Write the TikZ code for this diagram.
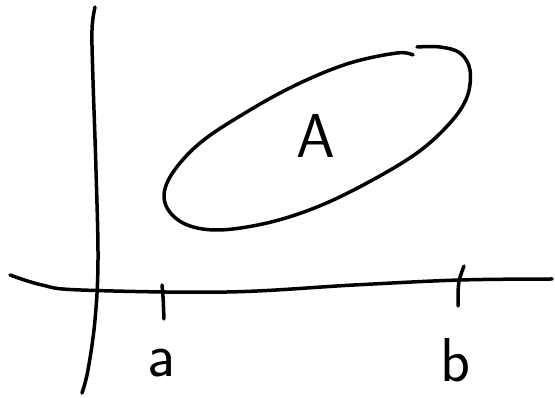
\documentclass[tikz,border=0pt]{standalone}
\usepackage{fontspec}
\setmainfont{DejaVu Sans}
\begin{document}
\begin{tikzpicture}[x=1pt,y=-1pt,
  pen/.style={line width=3.5pt,line cap=round,line join=round},
  lbl/.style={font=\fontsize{62}{62}\selectfont\sffamily,inner sep=0pt}]
\useasboundingbox (0,0) rectangle (555,398);
% vertical axis
\draw[pen] plot[smooth,tension=0.6] coordinates {(95,7) (92,30) (93,80) (96,170) (98,260) (95,320) (88,370) (82,393)};
% horizontal axis
\draw[pen] plot[smooth,tension=0.6] coordinates {(10,275) (42,285) (81,290) (227,292) (354,285) (460,280) (552,279)};
% ticks
\draw[pen] (162,285) .. controls (163,295) .. (164,319);
\draw[pen] (464,266) .. controls (458,282) .. (458,306);
% set A
\draw[pen] plot[smooth,tension=0.6] coordinates {(417,47) (440,47) (460,53) (470,70) (467,97) (450,123) (417,153) (367,183) (317,207) (267,223) (217,230) (183,223) (165,203) (170,177) (200,143) (250,110) (300,83) (350,63) (397,53) (413,55)};
\node[lbl] (A) at (316,136) {A};
\node[lbl] (a) at (161,363) {a};
\node[lbl] (b) at (456,360) {b};
\end{tikzpicture}
\end{document}
